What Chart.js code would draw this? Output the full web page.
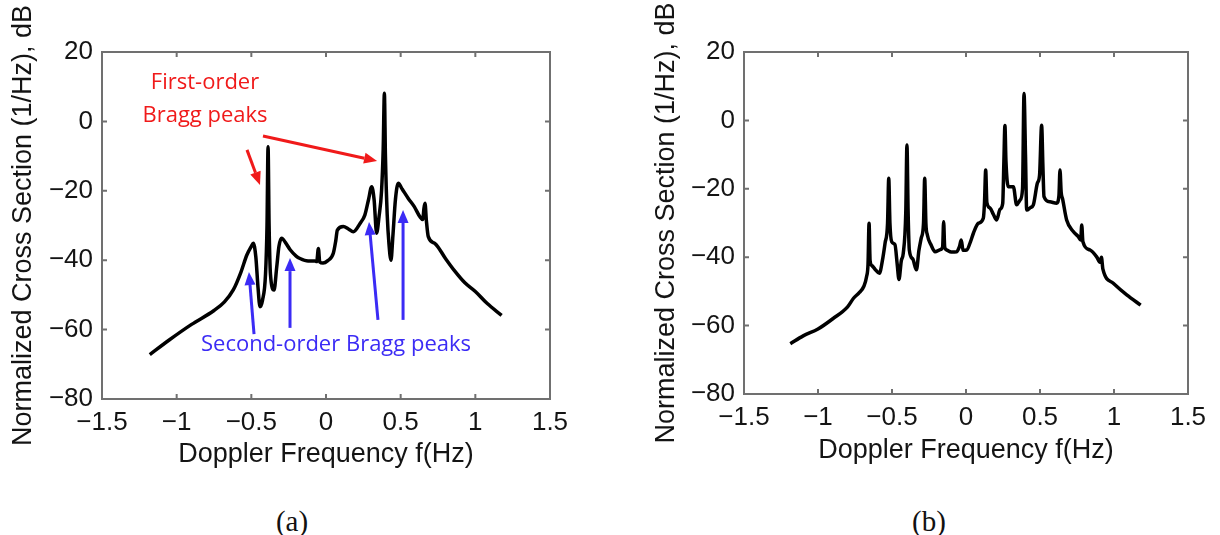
<!DOCTYPE html>
<html>
<head>
<meta charset="utf-8">
<script src="https://cdn.jsdelivr.net/npm/chart.js@4.4.1/dist/chart.umd.min.js"></script>
<style>
    html, body { margin: 0; padding: 0; background: #fff; }
    body { width: 1220px; height: 535px; position: relative; overflow: hidden; }
    .panel { position: absolute; top: 0; width: 600px; height: 480px; }
    .panel canvas { filter: blur(0.4px); }
    #pa { left: 0; }
    #pb { left: 620px; }
    .cap { position: absolute; top: 505px; font: 29px 'Liberation Serif', serif; color: #111; transform: translateX(-50%); line-height: 33px; }
</style>
</head>
<body>
<div class="panel" id="pa"><canvas id="chart-a" width="600" height="480"></canvas></div>
<div class="panel" id="pb"><canvas id="chart-b" width="600" height="480"></canvas></div>
<div class="cap" style="left:292px">(a)</div>
<div class="cap" style="left:929px">(b)</div>

<script>
// ── DATA ──────────────────────────────────────────────────────────────────────

const X_TICKS = [-1.5, -1, -0.5, 0, 0.5, 1, 1.5];
const Y_TICKS = [-80, -60, -40, -20, 0, 20];
const X_TITLE = 'Doppler Frequency f(Hz)';
const Y_TITLE = 'Normalized Cross Section (1/Hz), dB';

// (a) spectrum
const freqA = [-1.18, -1.05, -0.9, -0.75, -0.68, -0.62, -0.57, -0.53, -0.5, -0.487, -0.47, -0.455, -0.442, -0.425, -0.405, -0.395,
    -0.388, -0.381, -0.372, -0.348, -0.33, -0.315, -0.297, -0.27, -0.24, -0.2, -0.174, -0.12, -0.075, -0.062, -0.051, -0.042,
    -0.02, 0.01, 0.049, 0.065, 0.076, 0.116, 0.15, 0.183, 0.228, 0.26, 0.285, 0.306, 0.322, 0.339, 0.355, 0.372, 0.383,
    0.391, 0.398, 0.41, 0.422, 0.435, 0.448, 0.465, 0.484, 0.51, 0.551, 0.59, 0.629, 0.648, 0.656, 0.663, 0.672, 0.685,
    0.73, 0.8, 0.86, 0.93, 1.0, 1.08, 1.176];
const levelA = [-67.2, -63.0, -58.5, -54.5, -52.0, -48.5, -43.5, -38.5, -36.0, -35.1, -39.0, -48.0, -53.4, -51.5, -44.0, -30.0,
    -7.3, -30.0, -44.0, -48.6, -42.0, -36.0, -33.7, -35.0, -37.0, -38.8, -39.5, -40.2, -40.2, -40.4, -36.6, -40.5,
    -40.8, -40.2, -38.0, -34.5, -31.3, -30.3, -31.0, -31.8, -29.4, -27.0, -22.5, -18.8, -22.5, -32.2, -27.5, -20.0, -8.0,
    8.1, -10.0, -27.0, -35.5, -40.0, -33.0, -22.5, -17.8, -19.5, -22.2, -24.5, -27.5, -28.3, -25.0, -23.6, -28.5, -33.2,
    -35.2, -39.5, -43.0, -46.5, -49.0, -52.5, -55.9];

// (b) spectrum
const freqB = [-1.187, -1.1, -1.0, -0.9, -0.8, -0.76, -0.72, -0.69, -0.672, -0.662, -0.655, -0.648, -0.635, -0.615, -0.585,
    -0.565, -0.547, -0.53, -0.522, -0.514, -0.502, -0.48, -0.465, -0.453, -0.437, -0.424, -0.407, -0.399, -0.391, -0.383,
    -0.36, -0.335, -0.318, -0.303, -0.287, -0.279, -0.271, -0.261, -0.235, -0.209, -0.175, -0.158, -0.151, -0.144, -0.13,
    -0.1, -0.063, -0.045, -0.032, -0.02, 0.005, 0.03, 0.05, 0.083, 0.117, 0.125, 0.133, 0.141, 0.162, 0.185, 0.207, 0.23,
    0.248, 0.256, 0.263, 0.27, 0.286, 0.32, 0.342, 0.365, 0.382, 0.392, 0.402, 0.41, 0.435, 0.455, 0.482, 0.497, 0.511,
    0.52, 0.527, 0.567, 0.613, 0.628, 0.635, 0.643, 0.653, 0.68, 0.725, 0.759, 0.775, 0.782, 0.79, 0.838, 0.883, 0.905,
    0.915, 0.925, 0.995, 1.086, 1.18];
const levelB = [-65.3, -63.0, -61.0, -58.0, -54.5, -52.0, -50.3, -48.5, -45.7, -42.0, -30.1, -41.0, -42.5, -43.5, -44.7,
    -41.0, -35.9, -30.0, -16.9, -30.0, -35.5, -36.3, -42.0, -46.5, -41.0, -38.9, -27.0, -7.2, -27.0, -37.9,
    -40.5, -43.7, -38.0, -34.5, -30.0, -16.9, -30.0, -33.5, -36.5, -38.4, -37.8, -37.0, -29.6, -37.0, -37.9,
    -38.5, -38.4, -37.0, -35.0, -38.0, -37.9, -35.5, -33.0, -30.1, -28.6, -24.0, -14.5, -24.0, -25.6, -27.5, -29.1, -26.0,
    -24.3, -12.0, -1.5, -12.0, -19.4, -19.4, -24.7, -23.3, -20.0, 7.9, -10.0, -26.2, -25.5, -24.7, -18.4, -16.0, -1.4,
    -14.0, -22.3, -23.8, -24.2, -22.0, -14.5, -21.0, -23.0, -29.1, -32.5, -34.0, -35.0, -30.6, -35.5, -37.9, -39.9, -41.5,
    -40.0, -43.5, -47.6, -51.0, -54.0];

// (a) annotations, in data units
const firstLabels = ['First-order', 'Bragg peaks'];
const firstLabelAt = [[-0.81, 11.0], [-0.81, 1.6]];
const firstArrows = [[-0.529, -8.2, -0.442, -18.3], [-0.422, -4.2, 0.342, -11.4]];
const secondLabel = 'Second-order Bragg peaks';
const secondLabelAt = [0.067, -64.3];
const secondArrows = [[-0.482, -61.3, -0.516, -43.4], [-0.241, -59.5, -0.241, -39.4],
    [0.348, -57.2, 0.288, -29.0], [0.516, -57.2, 0.516, -25.5]];

// ── STYLE ─────────────────────────────────────────────────────────────────────

const INK = '#141414';
const FRAME = '#707070';
const RED = '#f01a1a';
const BLUE = '#3b2bf5';
const SANS = "'Liberation Sans', Arial, sans-serif";
const NOTE_FONT = "22px 'Open Sans', sans-serif";
const TICK_LEN = 5;

Chart.defaults.font.family = SANS;
Chart.defaults.color = INK;

const fmt = v => v < 0 ? '\u2212' + Math.abs(v) : String(v);

const framePlugin = {
    id: 'frame',
    afterDatasetsDraw(chart) {
        const { ctx, chartArea: a, scales: { x, y } } = chart;
        ctx.save();
        ctx.strokeStyle = FRAME;
        ctx.lineWidth = 2;
        ctx.strokeRect(a.left, a.top, a.right - a.left, a.bottom - a.top);
        ctx.beginPath();
        X_TICKS.forEach(v => {
            const p = x.getPixelForValue(v);
            ctx.moveTo(p, a.bottom); ctx.lineTo(p, a.bottom - TICK_LEN);
            ctx.moveTo(p, a.top); ctx.lineTo(p, a.top + TICK_LEN);
        });
        Y_TICKS.forEach(v => {
            const p = y.getPixelForValue(v);
            ctx.moveTo(a.left, p); ctx.lineTo(a.left + TICK_LEN, p);
            ctx.moveTo(a.right, p); ctx.lineTo(a.right - TICK_LEN, p);
        });
        ctx.stroke();
        ctx.restore();
    }
};

function arrow(ctx, x1, y1, x2, y2, color) {
    const ang = Math.atan2(y2 - y1, x2 - x1);
    const head = 13, half = 5.5;
    const bx = x2 - head * Math.cos(ang), by = y2 - head * Math.sin(ang);
    ctx.strokeStyle = color; ctx.fillStyle = color; ctx.lineWidth = 3;
    ctx.beginPath(); ctx.moveTo(x1, y1); ctx.lineTo(bx, by); ctx.stroke();
    ctx.beginPath();
    ctx.moveTo(x2, y2);
    ctx.lineTo(bx + half * Math.sin(ang), by - half * Math.cos(ang));
    ctx.lineTo(bx - half * Math.sin(ang), by + half * Math.cos(ang));
    ctx.closePath(); ctx.fill();
}

const notesPlugin = {
    id: 'notes',
    afterDatasetsDraw(chart, args, opts) {
        if (!opts.on) return;
        const { ctx, scales: { x, y } } = chart;
        const px = v => x.getPixelForValue(v), py = v => y.getPixelForValue(v);
        ctx.save();
        ctx.font = NOTE_FONT;
        ctx.textAlign = 'center';
        ctx.textBaseline = 'middle';
        ctx.fillStyle = RED;
        firstLabels.forEach((t, i) => ctx.fillText(t, px(firstLabelAt[i][0]), py(firstLabelAt[i][1])));
        firstArrows.forEach(a => arrow(ctx, px(a[0]), py(a[1]), px(a[2]), py(a[3]), RED));
        ctx.fillStyle = BLUE;
        ctx.fillText(secondLabel, px(secondLabelAt[0]), py(secondLabelAt[1]));
        secondArrows.forEach(a => arrow(ctx, px(a[0]), py(a[1]), px(a[2]), py(a[3]), BLUE));
        ctx.restore();
    }
};

// ── CHARTS ────────────────────────────────────────────────────────────────────

function panel(id, freq, level, o) {
    new Chart(document.getElementById(id), {
        type: 'line',
        data: {
            datasets: [{
                data: freq.map((f, i) => ({ x: f, y: level[i] })),
                borderColor: '#000', borderWidth: o.lw, pointRadius: 0,
                cubicInterpolationMode: 'monotone'
            }]
        },
        options: {
            responsive: false, animation: false,
            layout: { padding: { top: 52, right: o.padRight, left: 0, bottom: 0 } },
            plugins: { legend: { display: false }, tooltip: { enabled: false }, notes: { on: o.notes } },
            scales: {
                x: {
                    type: 'linear', min: -1.5, max: 1.5,
                    afterBuildTicks: s => { s.ticks = X_TICKS.map(v => ({ value: v })); },
                    afterFit: s => { s.height = o.xHeight; },
                    grid: { display: false, drawTicks: false }, border: { display: false },
                    ticks: { callback: fmt, font: { size: 26 }, padding: 8, maxRotation: 0, autoSkip: false, color: INK },
                    title: { display: true, text: X_TITLE, font: { size: 27 }, color: INK, padding: { top: 0, bottom: o.xTitlePad } }
                },
                y: {
                    min: -80, max: 20,
                    afterBuildTicks: s => { s.ticks = Y_TICKS.map(v => ({ value: v })); },
                    afterFit: s => { s.width = o.yWidth; },
                    grid: { display: false, drawTicks: false }, border: { display: false },
                    ticks: { callback: fmt, font: { size: 26 }, padding: 9, color: INK },
                    title: { display: true, text: Y_TITLE, font: { size: 27 }, color: INK, padding: { top: o.yTitlePad, bottom: 0 } }
                }
            }
        },
        plugins: [framePlugin, notesPlugin]
    });
}

panel('chart-a', freqA, levelA, { lw: 3.5, yWidth: 102, xHeight: 81, padRight: 50, yTitlePad: 7, xTitlePad: 9, notes: true });
panel('chart-b', freqB, levelB, { lw: 3.5, yWidth: 124, xHeight: 86, padRight: 32, yTitlePad: 30, xTitlePad: 13, notes: false });
</script>
</body>
</html>
